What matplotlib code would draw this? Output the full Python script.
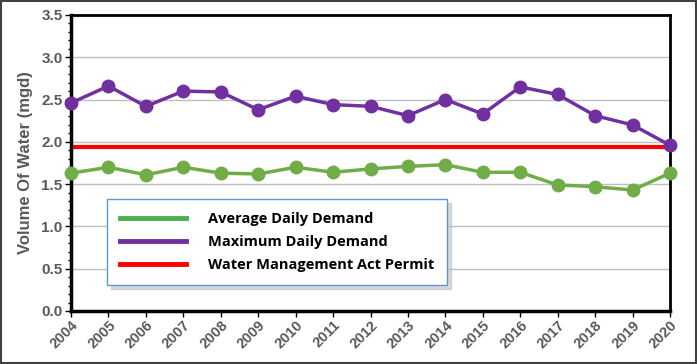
import matplotlib
matplotlib.use("Agg")
import matplotlib.pyplot as plt
from matplotlib.ticker import MultipleLocator
from matplotlib.patches import Rectangle

years = list(range(2004, 2021))
avg_demand = [1.63, 1.70, 1.61, 1.70, 1.63, 1.62, 1.70, 1.64, 1.68, 1.71, 1.73, 1.64, 1.64, 1.49, 1.47, 1.43, 1.63]
max_demand = [2.46, 2.66, 2.42, 2.60, 2.59, 2.38, 2.54, 2.44, 2.42, 2.31, 2.50, 2.33, 2.65, 2.56, 2.31, 2.20, 1.96]
permit = 1.94
labels = ["Average Daily Demand", "Maximum Daily Demand", "Water Management Act Permit"]

fig = plt.figure(figsize=(6.97, 3.64), dpi=100)
ax = fig.add_axes([71/697, 1-311/364, (670-71)/697, (311-15)/364])

gray = "#595959"
ax.plot(years, avg_demand, color="#70AD47", lw=2.5, marker="o", ms=9, zorder=3, clip_on=False)
ax.plot(years, max_demand, color="#7030A0", lw=2.5, marker="o", ms=9, zorder=3, clip_on=False)
ax.axhline(permit, color="#FF0000", lw=3, zorder=2)

ax.set_xlim(2004, 2020)
ax.set_ylim(0, 3.5)
ax.set_xticks(years)
ax.set_xticklabels([str(y) for y in years], rotation=45, ha="right", rotation_mode="anchor",
                   fontsize=10.5, fontweight="bold", color=gray, family="Liberation Sans")
ax.yaxis.set_major_locator(MultipleLocator(0.5))
ax.yaxis.set_minor_locator(MultipleLocator(0.1))
ax.set_yticklabels([f"{v:.1f}" for v in ax.get_yticks()], fontsize=11, fontweight="bold",
                   color=gray, family="Liberation Sans")
ax.grid(axis="y", which="major", color="#BFBFBF", lw=1)
ax.set_axisbelow(True)
for name, s in ax.spines.items():
    s.set_color("black")
    s.set_linewidth(2.5 if name in ("left", "bottom") else 2)
ax.tick_params(axis="y", which="major", length=4, width=1, direction="out", pad=2)
ax.tick_params(axis="y", which="minor", length=2, width=1, direction="out")
ax.tick_params(axis="x", length=4, width=1, pad=1)
ax.set_ylabel("Volume Of Water (mgd)", fontsize=12, fontweight="bold", color=gray,
              family="Liberation Sans", labelpad=6)

leg_handles = [
    plt.Line2D([], [], color="#4CAF50", lw=3.5),
    plt.Line2D([], [], color="#7030A0", lw=3.5),
    plt.Line2D([], [], color="#FF0000", lw=3.5),
]
leg = ax.legend(leg_handles, labels, loc="upper left",
                bbox_to_anchor=((107-71)/599, (311-199)/296),
                prop={"family": "Open Sans", "weight": "bold", "size": 10.5},
                frameon=True, fancybox=False,
                shadow={"color": "0.75", "alpha": 0.6, "ox": 3, "oy": -3},
                handlelength=4.5, handletextpad=1.5, labelspacing=0.6, borderpad=0.9,
                borderaxespad=0)
leg.get_frame().set_edgecolor("#5B9BD5")
leg.get_frame().set_linewidth(1)

fig.patches.append(Rectangle((1/697, 1/364), 695/697, 362/364, transform=fig.transFigure,
                             fill=False, edgecolor="#404040", lw=1.5))

fig.savefig("out.png", dpi=100)
